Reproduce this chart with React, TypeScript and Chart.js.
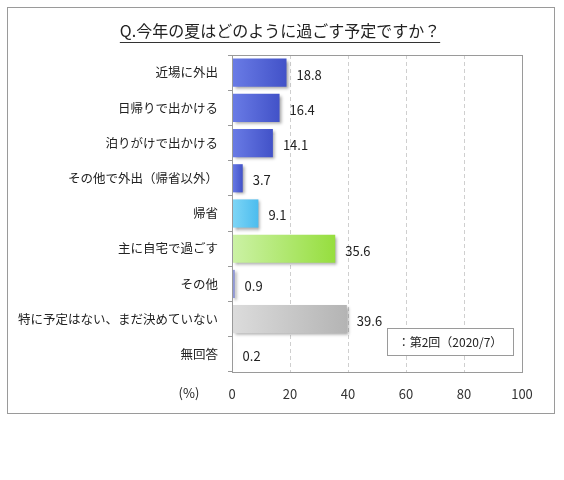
import { useEffect, useRef } from 'react';
import { Chart, registerables } from 'chart.js';

Chart.register(...registerables);

const categories = [
  '近場に外出',
  '日帰りで出かける',
  '泊りがけで出かける',
  'その他で外出（帰省以外）',
  '帰省',
  '主に自宅で過ごす',
  'その他',
  '特に予定はない、まだ決めていない',
  '無回答',
];
const values = [18.8, 16.4, 14.1, 3.7, 9.1, 35.6, 0.9, 39.6, 0.2];
// left -> right gradient stops per bar
const colorsLight = ['#6a7ce6', '#6a7ce6', '#6a7ce6', '#6a7ce6', '#7fd6f6', '#ccf2a6', '#c8cef0', '#dcdcdc', '#c8cef0'];
const colorsDark = ['#4252c8', '#4252c8', '#4252c8', '#4252c8', '#4cbcee', '#96de3e', '#6a74c8', '#b4b4b4', '#6a74c8'];
const xTicks = [0, 20, 40, 60, 80, 100];
const titleText = 'Q.今年の夏はどのように過ごす予定ですか？';
const legendText = '：第2回（2020/7）';
const unitText = '(%)';

const FONT = '"Noto Sans CJK JP", "Noto Sans", sans-serif';

export default function App() {
  const canvasRef = useRef<HTMLCanvasElement>(null);
  const chartRef = useRef<Chart | null>(null);

  useEffect(() => {
    if (!canvasRef.current) return;
    if (chartRef.current) chartRef.current.destroy();

    const decor = {
      id: 'decor',
      beforeDraw(chart: any) {
        const { ctx } = chart;
        ctx.save();
        ctx.fillStyle = '#ffffff';
        ctx.fillRect(0, 0, chart.width, chart.height);
        ctx.strokeStyle = '#9a9a9a';
        ctx.lineWidth = 1;
        ctx.strokeRect(7.5, 7.5, 547, 406);
        // title
        ctx.fillStyle = '#222';
        ctx.font = `16px ${FONT}`;
        ctx.textAlign = 'center';
        ctx.textBaseline = 'middle';
        ctx.fillText(titleText, 280, 31);
        const w = ctx.measureText(titleText).width;
        ctx.strokeStyle = '#333';
        ctx.beginPath();
        ctx.moveTo(280 - w / 2, 42.5);
        ctx.lineTo(280 + w / 2, 42.5);
        ctx.stroke();
        ctx.restore();
      },
      beforeDatasetsDraw(chart: any) {
        const { ctx } = chart;
        ctx.save();
        ctx.shadowColor = 'rgba(0,0,0,0.35)';
        ctx.shadowOffsetX = 2;
        ctx.shadowOffsetY = 2;
        ctx.shadowBlur = 3;
      },
      afterDatasetsDraw(chart: any) {
        const { ctx } = chart;
        ctx.restore();
        const meta = chart.getDatasetMeta(0);
        ctx.save();
        ctx.fillStyle = '#222';
        ctx.font = `13px ${FONT}`;
        ctx.textAlign = 'left';
        ctx.textBaseline = 'middle';
        meta.data.forEach((bar: any, i: number) => {
          ctx.fillText(values[i].toFixed(1), bar.x + 10, bar.y + 2);
        });
        // unit label
        const xs = chart.scales.x;
        ctx.textAlign = 'center';
        ctx.fillText(unitText, 189, xs.top + 21);
        // legend box
        ctx.fillStyle = '#fff';
        ctx.fillRect(387, 328, 126, 27);
        ctx.strokeStyle = '#9a9a9a';
        ctx.lineWidth = 1;
        ctx.strokeRect(387.5, 328.5, 126, 27);
        ctx.fillStyle = '#222';
        ctx.font = `12px ${FONT}`;
        ctx.fillText(legendText, 450, 342);
        ctx.restore();
      },
    };

    chartRef.current = new Chart(canvasRef.current, {
      type: 'bar',
      data: {
        labels: categories,
        datasets: [
          {
            data: values,
            barPercentage: 0.8,
            categoryPercentage: 1,
            borderWidth: 0,
            backgroundColor: (c: any) => {
              const chart = c.chart;
              const area = chart.chartArea;
              const i = c.dataIndex;
              if (!area) return colorsDark[i];
              const xEnd = chart.scales.x.getPixelForValue(values[i]);
              const g = chart.ctx.createLinearGradient(area.left, 0, Math.max(xEnd, area.left + 1), 0);
              g.addColorStop(0, colorsLight[i]);
              g.addColorStop(1, colorsDark[i]);
              return g;
            },
          },
        ],
      },
      options: {
        indexAxis: 'y',
        responsive: false,
        animation: false,
        layout: { padding: { top: 55, left: 10, right: 42, bottom: 78 } },
        plugins: {
          legend: { display: false },
          tooltip: { enabled: false },
        },
        scales: {
          x: {
            min: 0,
            max: 100,
            afterBuildTicks: (s: any) => {
              s.ticks = xTicks.map((v) => ({ value: v }));
            },
            afterFit: (s: any) => {
              s.height = 30;
            },
            grid: {
              color: (c: any) => (c.tick && (c.tick.value === 0 || c.tick.value === 100) ? 'rgba(0,0,0,0)' : '#cfcfcf'),
              drawTicks: false,
            },
            border: { display: true, color: '#9a9a9a', dash: [4, 3] },
            ticks: {
              color: '#333',
              font: { size: 13, family: FONT },
              padding: 14,
              maxRotation: 0,
            },
          },
          y: {
            afterFit: (s: any) => {
              s.width = 222;
            },
            grid: {
              offset: true,
              drawOnChartArea: false,
              drawTicks: true,
              tickLength: 4,
              color: '#9a9a9a',
            },
            border: { display: true, color: '#9a9a9a' },
            ticks: {
              color: '#222',
              font: { size: 12.5, family: FONT },
              padding: 10,
            },
          },
        },
      },
      plugins: [
        decor,
        {
          id: 'frame',
          afterDraw(chart: any) {
            const { ctx, chartArea: a } = chart;
            ctx.save();
            ctx.setLineDash([]);
            ctx.strokeStyle = '#9a9a9a';
            ctx.lineWidth = 1;
            ctx.strokeRect(Math.round(a.left) + 0.5, Math.round(a.top) + 0.5, Math.round(a.right - a.left), Math.round(a.bottom - a.top));
            ctx.restore();
          },
        },
      ],
    });

    return () => {
      if (chartRef.current) {
        chartRef.current.destroy();
        chartRef.current = null;
      }
    };
  }, []);

  return (
    <div style={{ position: 'fixed', left: 0, top: 0, width: 564, height: 480, background: '#fff' }}>
      <canvas ref={canvasRef} width={564} height={480} style={{ width: 564, height: 480 }} />
    </div>
  );
}
